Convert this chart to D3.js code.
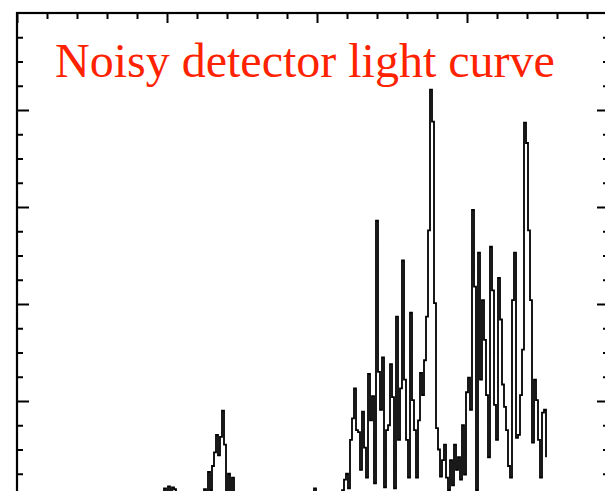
<!DOCTYPE html>
<html>
<head>
<meta charset="utf-8">
<script src="https://cdn.jsdelivr.net/npm/d3@7"></script>
<style>
  html, body { margin: 0; padding: 0; background: #ffffff; }
  svg { display: block; }
</style>
</head>
<body>
<svg id="chart" width="605" height="491"></svg>
<script>
// ---- data (counts per 4 s bin) ----
const titleText = "Noisy detector light curve";
const binStart = 278;   // seconds, first bin
const binWidth = 4;     // seconds per bin
const counts = [
  98,93,100,104,110,106,112,103,111,109,
  98,93,88,95,90,86,98,92,88,96,
  100,93,103,98,109,105,127,108,133,147,
  165,144,163,190,155,98,125,102,121,96,
  88,84,91,78,86,95,80,74,88,93,
  82,76,90,97,85,79,72,87,94,81,
  89,96,83,77,92,99,86,80,91,98,
  84,78,93,100,88,82,95,101,90,110,
  103,94,87,99,92,85,97,104,90,83,
  96,101,95,108,119,125,110,160,182,213,
  170,168,129,189,152,121,228,180,205,115,
  386,230,191,245,111,170,175,238,204,110,
  287,160,213,345,222,160,121,291,201,170,
  121,180,229,206,242,287,376,521,488,301,
  172,150,122,139,155,121,108,139,113,155,
  129,142,119,175,124,209,224,191,397,318,
  108,353,222,304,263,206,142,359,314,196,
  160,327,284,217,194,170,133,121,304,353,
  162,165,206,253,487,466,376,304,157,222,
  201,160,121,188,191,142
];
const xMajorTicks = [0, 300, 600, 900];
const xMinorTicks = [60,120,180,240,360,420,480,540,660,720,780,840,960,1020,1080,1140];
const yMajorTicks = [100, 200, 300, 400, 500];
const yMinorTicks = [25,50,75,125,150,175,225,250,275,325,350,375,425,450,475,525,550,575];

// ---- layout ----
const plot = { left: 17, top: 13, right: 609, bottom: 595 };
const svg = d3.select("#chart");

const x = d3.scaleLinear().domain([0, 1184]).range([plot.left, plot.right]);
const y = d3.scaleLinear().domain([0, 600]).range([plot.bottom, plot.top]);

const points = counts.map((c, i) => ({ t: binStart + i * binWidth, c }));

svg.append("defs").append("clipPath").attr("id", "clip")
  .append("rect")
  .attr("x", plot.left).attr("y", plot.top)
  .attr("width", plot.right - plot.left).attr("height", plot.bottom - plot.top);

// light curve
const line = d3.line().curve(d3.curveStepAfter).x(d => x(d.t)).y(d => y(d.c));
svg.append("path")
  .datum(points)
  .attr("clip-path", "url(#clip)")
  .attr("fill", "none")
  .attr("stroke", "#000")
  .attr("stroke-width", 1.8)
  .attr("d", line);

// axes (ticks inward, no labels)
function styleAxis(g) {
  g.select(".domain").remove();
  g.selectAll(".tick line").attr("stroke", "#000").attr("stroke-width", 2);
  g.selectAll(".tick text").remove();
}
const tAxis = (ticks, size) => d3.axisTop(x).tickValues(ticks).tickSize(-size).tickFormat("");
const lAxis = (ticks, size) => d3.axisLeft(y).tickValues(ticks).tickSize(-size).tickFormat("");
const rAxis = (ticks, size) => d3.axisRight(y).tickValues(ticks).tickSize(-size).tickFormat("");

svg.append("g").attr("transform", `translate(0,${plot.top})`).call(tAxis(xMajorTicks, 10)).call(styleAxis);
svg.append("g").attr("transform", `translate(0,${plot.top})`).call(tAxis(xMinorTicks, 6)).call(styleAxis);
svg.append("g").attr("transform", `translate(${plot.left},0)`).call(lAxis(yMajorTicks, 12)).call(styleAxis);
svg.append("g").attr("transform", `translate(${plot.left},0)`).call(lAxis(yMinorTicks, 6)).call(styleAxis);
svg.append("g").attr("transform", `translate(${plot.right},0)`).call(rAxis(yMajorTicks, 12)).call(styleAxis);
svg.append("g").attr("transform", `translate(${plot.right},0)`).call(rAxis(yMinorTicks, 6)).call(styleAxis);

// frame
svg.append("rect")
  .attr("x", plot.left).attr("y", plot.top)
  .attr("width", plot.right - plot.left).attr("height", plot.bottom - plot.top)
  .attr("fill", "none").attr("stroke", "#000").attr("stroke-width", 2.2);

// title
svg.append("text")
  .attr("x", 55).attr("y", 77)
  .attr("font-family", "'Liberation Serif', 'Times New Roman', serif")
  .attr("font-size", 48)
  .attr("fill", "#ff2200")
  .text(titleText);
</script>
</body>
</html>
